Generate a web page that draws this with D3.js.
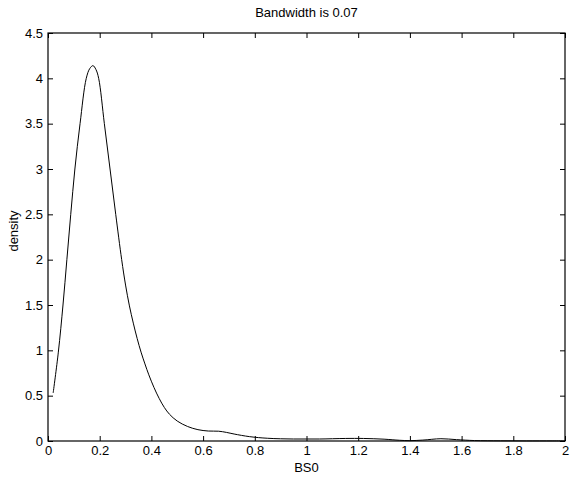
<!DOCTYPE html>
<html>
<head>
<meta charset="utf-8">
<script src="https://cdn.jsdelivr.net/npm/d3@7"></script>
<style>
  body { margin: 0; background: #fff; }
  text { font-family: "Liberation Sans", Arial, sans-serif; }
</style>
</head>
<body>
<div id="chart"></div>
<script>
"use strict";

// density estimate
var bsValues = [0.02, 0.04, 0.058, 0.073, 0.088, 0.104, 0.124, 0.148, 0.162, 0.174, 0.185, 0.196,
    0.218, 0.240, 0.262, 0.285, 0.30, 0.315, 0.33, 0.345, 0.36, 0.375, 0.39, 0.41, 0.43, 0.45, 0.47, 0.5, 0.54, 0.58, 0.62, 0.66,
    0.69, 0.72, 0.78, 0.85, 0.95, 1.05, 1.15, 1.22, 1.3, 1.36, 1.4, 1.45, 1.52, 1.58, 1.65, 1.75, 1.85, 1.95, 2.0];
var densityValues = [0.53, 0.98, 1.5, 2.0, 2.5, 3.0, 3.5, 4.0, 4.11, 4.14, 4.1, 4.0,
    3.5, 3.0, 2.5, 2.0, 1.72, 1.49, 1.30, 1.13, 0.98, 0.85, 0.73, 0.59, 0.47, 0.37, 0.295, 0.22, 0.16, 0.125, 0.11, 0.108,
    0.095, 0.077, 0.048, 0.03, 0.022, 0.022, 0.028, 0.028, 0.02, 0.008, 0.004, 0.01, 0.025, 0.015, 0.005, 0.002, 0.001, 0.001, 0.001];

var xTicks = [0, 0.2, 0.4, 0.6, 0.8, 1, 1.2, 1.4, 1.6, 1.8, 2];
var yTicks = [0, 0.5, 1, 1.5, 2, 2.5, 3, 3.5, 4, 4.5];

var titleText = "Bandwidth is 0.07";
var xLabel = "BS0";
var yLabel = "density";

var data = bsValues.map((v, i) => ({ x: v, y: densityValues[i] }));

var totalWidth = 571, totalHeight = 477;
var margin = { top: 33, right: 6, bottom: 36, left: 48 };
var width = totalWidth - margin.left - margin.right;
var height = totalHeight - margin.top - margin.bottom;

var svg = d3.select("#chart")
    .append("svg")
    .attr("width", totalWidth)
    .attr("height", totalHeight)
    .append("g")
    .attr("transform", `translate(${margin.left},${margin.top})`);

// scales
var x = d3.scaleLinear().domain([0, 2]).range([0, width]);
var y = d3.scaleLinear().domain([0, 4.5]).range([height, 0]);

var fmt = d => String(d);

// axes, ticks pointing inward
var styleAxis = function (g) {
    g.select(".domain").remove();
    g.selectAll("line").attr("stroke", "#000");
    g.selectAll("text").style("font-size", "13px").attr("fill", "#000");
};

svg.append("g")
    .attr("transform", `translate(0,${height})`)
    .call(d3.axisBottom(x).tickValues(xTicks).tickFormat(fmt).tickSizeInner(-5).tickSizeOuter(0).tickPadding(5))
    .call(styleAxis);

svg.append("g")
    .call(d3.axisTop(x).tickValues(xTicks).tickFormat("").tickSizeInner(-5).tickSizeOuter(0))
    .call(styleAxis);

svg.append("g")
    .call(d3.axisLeft(y).tickValues(yTicks).tickFormat(fmt).tickSizeInner(-5).tickSizeOuter(0).tickPadding(5))
    .call(styleAxis);

svg.append("g")
    .attr("transform", `translate(${width},0)`)
    .call(d3.axisRight(y).tickValues(yTicks).tickFormat("").tickSizeInner(-5).tickSizeOuter(0))
    .call(styleAxis);

// box
svg.append("rect")
    .attr("x", 0)
    .attr("y", 0)
    .attr("width", width)
    .attr("height", height)
    .attr("fill", "none")
    .attr("stroke", "#000")
    .attr("stroke-width", 1.2);

// density line
var line = d3.line()
    .x(d => x(d.x))
    .y(d => y(d.y))
    .curve(d3.curveCatmullRom.alpha(0.5));

svg.append("path")
    .datum(data)
    .attr("fill", "none")
    .attr("stroke", "#000")
    .attr("stroke-width", 1)
    .attr("d", line);

// labels
svg.append("text")
    .attr("text-anchor", "middle")
    .attr("x", width / 2)
    .attr("y", -16)
    .style("font-size", "13px")
    .text(titleText);

svg.append("text")
    .attr("text-anchor", "middle")
    .attr("x", width / 2)
    .attr("y", height + 31)
    .style("font-size", "13px")
    .text(xLabel);

svg.append("text")
    .attr("text-anchor", "middle")
    .attr("transform", "rotate(-90)")
    .attr("x", -height / 2 + 6)
    .attr("y", -30)
    .style("font-size", "13px")
    .text(yLabel);
</script>
</body>
</html>
